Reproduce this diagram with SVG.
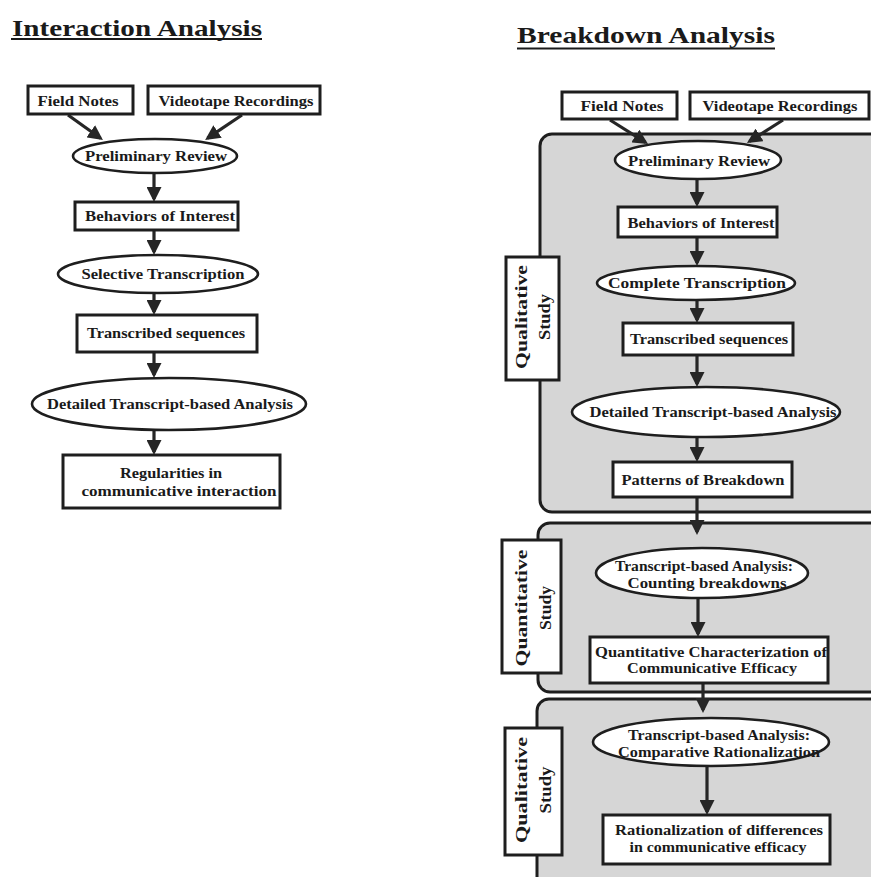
<svg xmlns="http://www.w3.org/2000/svg" width="871" height="877" viewBox="0 0 871 877">
  <style>
    .bg { fill: #ffffff; }
    .box { fill: #ffffff; stroke: #1e1e1e; stroke-width: 3; }
    .oval { fill: #ffffff; stroke: #1e1e1e; stroke-width: 2.6; }
    .section { fill: #d6d6d6; stroke: #1e1e1e; stroke-width: 3; }
    .tag { fill: #ffffff; stroke: #1e1e1e; stroke-width: 3; }
    .t { font-family: "Liberation Serif", "Times New Roman", serif; font-size: 15.5px; font-weight: bold; fill: #1a1a1a; text-anchor: middle; }
    .title { font-family: "Liberation Serif", "Times New Roman", serif; font-size: 23px; font-weight: bold; fill: #1a1a1a; }
    .uline { stroke: #1a1a1a; stroke-width: 2; }
    .lbl { font-family: "Liberation Serif", "Times New Roman", serif; font-size: 17.5px; font-weight: bold; fill: #1a1a1a; text-anchor: middle; }
    .edge { fill: none; stroke: #262626; stroke-width: 3.2; marker-end: url(#head); }
  </style>
  <defs>
    <marker id="head" markerUnits="userSpaceOnUse" viewBox="0 0 15 15" markerWidth="15" markerHeight="15" refX="12" refY="7.5" orient="auto">
      <path d="M0,0 L15,7.5 L0,15 z" fill="#262626"/>
    </marker>
  </defs>
  <rect class="bg" x="0" y="0" width="871" height="877"/>

  <!-- headings -->
  <g id="title-interaction">
    <text class="title" x="12" y="36" textLength="250" lengthAdjust="spacingAndGlyphs">Interaction Analysis</text>
    <line class="uline" x1="11" y1="39" x2="262" y2="39"/>
  </g>
  <g id="title-breakdown">
    <text class="title" x="517" y="43" textLength="258" lengthAdjust="spacingAndGlyphs">Breakdown Analysis</text>
    <line class="uline" x1="517" y1="48.5" x2="775" y2="48.5"/>
  </g>

  <!-- study phases (shaded bands) -->
  <g id="phase-qualitative-1"><rect class="section" x="540" y="134" width="370" height="378" rx="12"/></g>
  <g id="phase-quantitative"><rect class="section" x="538" y="523" width="370" height="169" rx="12"/></g>
  <g id="phase-qualitative-2"><rect class="section" x="537" y="699" width="370" height="210" rx="12"/></g>

  <!-- connectors -->
  <g id="connectors">
    <path class="edge" d="M68,115 L100.5,138.3"/>
    <path class="edge" d="M242,115 L207.6,138.2"/>
    <path class="edge" d="M154,173 L154,199"/>
    <path class="edge" d="M154,230 L154,252"/>
    <path class="edge" d="M154,293 L154,312"/>
    <path class="edge" d="M154,352 L154,375"/>
    <path class="edge" d="M154,430 L154,452"/>

    <path class="edge" d="M610,120 L645.5,142.4"/>
    <path class="edge" d="M783,120 L749.5,141.4"/>
    <path class="edge" d="M697,179 L697,204"/>
    <path class="edge" d="M697,237 L697,263"/>
    <path class="edge" d="M697,300 L697,320"/>
    <path class="edge" d="M697,355 L697,384"/>
    <path class="edge" d="M697,437 L697,459"/>
    <path class="edge" d="M697,497 L697,532"/>
    <path class="edge" d="M698,598 L698,634"/>
    <path class="edge" d="M703,683 L703,710"/>
    <path class="edge" d="M707,766 L707,812"/>
  </g>

  <!-- interaction analysis flow -->
  <g id="ia-field-notes">
    <rect class="box" x="28" y="86" width="105" height="28"/>
    <text class="t" x="78" y="106" textLength="81" lengthAdjust="spacingAndGlyphs">Field Notes</text>
  </g>
  <g id="ia-videotape">
    <rect class="box" x="148" y="86" width="172" height="28"/>
    <text class="t" x="236" y="106" textLength="155" lengthAdjust="spacingAndGlyphs">Videotape Recordings</text>
  </g>
  <g id="ia-preliminary-review">
    <ellipse class="oval" cx="155" cy="156" rx="82" ry="17"/>
    <text class="t" x="156" y="161" textLength="142" lengthAdjust="spacingAndGlyphs">Preliminary Review</text>
  </g>
  <g id="ia-behaviors">
    <rect class="box" x="75" y="202" width="163" height="28"/>
    <text class="t" x="160" y="221" textLength="150" lengthAdjust="spacingAndGlyphs">Behaviors of Interest</text>
  </g>
  <g id="ia-selective-transcription">
    <ellipse class="oval" cx="158" cy="274" rx="100" ry="19"/>
    <text class="t" x="163" y="279" textLength="163" lengthAdjust="spacingAndGlyphs">Selective Transcription</text>
  </g>
  <g id="ia-transcribed">
    <rect class="box" x="77" y="315" width="180" height="37"/>
    <text class="t" x="166" y="338" textLength="158" lengthAdjust="spacingAndGlyphs">Transcribed sequences</text>
  </g>
  <g id="ia-detailed-analysis">
    <ellipse class="oval" cx="169" cy="404" rx="137" ry="26"/>
    <text class="t" x="170" y="409" textLength="246" lengthAdjust="spacingAndGlyphs">Detailed Transcript-based Analysis</text>
  </g>
  <g id="ia-regularities">
    <rect class="box" x="63" y="455" width="217" height="53"/>
    <text class="t" x="171" y="478" textLength="102" lengthAdjust="spacingAndGlyphs">Regularities in</text>
    <text class="t" x="179" y="496" textLength="195" lengthAdjust="spacingAndGlyphs">communicative interaction</text>
  </g>

  <!-- breakdown analysis flow -->
  <g id="ba-field-notes">
    <rect class="box" x="562" y="92" width="115" height="27"/>
    <text class="t" x="622" y="111" textLength="83" lengthAdjust="spacingAndGlyphs">Field Notes</text>
  </g>
  <g id="ba-videotape">
    <rect class="box" x="690" y="92" width="179" height="27"/>
    <text class="t" x="780" y="111" textLength="155" lengthAdjust="spacingAndGlyphs">Videotape Recordings</text>
  </g>
  <g id="ba-preliminary-review">
    <ellipse class="oval" cx="698" cy="160" rx="83" ry="19"/>
    <text class="t" x="699" y="166" textLength="142" lengthAdjust="spacingAndGlyphs">Preliminary Review</text>
  </g>
  <g id="ba-behaviors">
    <rect class="box" x="618" y="207" width="159" height="30"/>
    <text class="t" x="701" y="228" textLength="147" lengthAdjust="spacingAndGlyphs">Behaviors of Interest</text>
  </g>
  <g id="ba-complete-transcription">
    <ellipse class="oval" cx="696" cy="283" rx="99" ry="17"/>
    <text class="t" x="697" y="288" textLength="178" lengthAdjust="spacingAndGlyphs">Complete Transcription</text>
  </g>
  <g id="ba-transcribed">
    <rect class="box" x="623" y="323" width="170" height="32"/>
    <text class="t" x="709" y="344" textLength="158" lengthAdjust="spacingAndGlyphs">Transcribed sequences</text>
  </g>
  <g id="ba-detailed-analysis">
    <ellipse class="oval" cx="706" cy="412" rx="134" ry="25"/>
    <text class="t" x="713" y="417" textLength="247" lengthAdjust="spacingAndGlyphs">Detailed Transcript-based Analysis</text>
  </g>
  <g id="ba-patterns">
    <rect class="box" x="613" y="462" width="179" height="35"/>
    <text class="t" x="703" y="485" textLength="163" lengthAdjust="spacingAndGlyphs">Patterns of Breakdown</text>
  </g>
  <g id="ba-counting">
    <ellipse class="oval" cx="702" cy="573" rx="106" ry="25"/>
    <text class="t" x="704" y="571" textLength="178" lengthAdjust="spacingAndGlyphs">Transcript-based Analysis:</text>
    <text class="t" x="707" y="588" textLength="159" lengthAdjust="spacingAndGlyphs">Counting breakdowns</text>
  </g>
  <g id="ba-efficacy">
    <rect class="box" x="590" y="637" width="238" height="46"/>
    <text class="t" x="711" y="657" textLength="232" lengthAdjust="spacingAndGlyphs">Quantitative Characterization of</text>
    <text class="t" x="712" y="673" textLength="170" lengthAdjust="spacingAndGlyphs">Communicative Efficacy</text>
  </g>
  <g id="ba-comparative">
    <ellipse class="oval" cx="711" cy="742" rx="118" ry="24"/>
    <text class="t" x="719" y="740" textLength="182" lengthAdjust="spacingAndGlyphs">Transcript-based Analysis:</text>
    <text class="t" x="719" y="757" textLength="202" lengthAdjust="spacingAndGlyphs">Comparative Rationalization</text>
  </g>
  <g id="ba-rationalization">
    <rect class="box" x="603" y="815" width="227" height="49"/>
    <text class="t" x="719" y="835" textLength="208" lengthAdjust="spacingAndGlyphs">Rationalization of differences</text>
    <text class="t" x="718" y="852" textLength="177" lengthAdjust="spacingAndGlyphs">in communicative efficacy</text>
  </g>

  <!-- phase labels -->
  <g id="tag-qualitative-1">
    <rect class="tag" x="506" y="257" width="53" height="123"/>
    <text class="lbl" transform="translate(527,317) rotate(-90)" textLength="104" lengthAdjust="spacingAndGlyphs">Qualitative</text>
    <text class="lbl" transform="translate(550,317) rotate(-90)" textLength="46" lengthAdjust="spacingAndGlyphs">Study</text>
  </g>
  <g id="tag-quantitative">
    <rect class="tag" x="502" y="540" width="59" height="133"/>
    <text class="lbl" transform="translate(527,608) rotate(-90)" textLength="117" lengthAdjust="spacingAndGlyphs">Quantitative</text>
    <text class="lbl" transform="translate(551,608) rotate(-90)" textLength="44" lengthAdjust="spacingAndGlyphs">Study</text>
  </g>
  <g id="tag-qualitative-2">
    <rect class="tag" x="505" y="728" width="57" height="127"/>
    <text class="lbl" transform="translate(527,790) rotate(-90)" textLength="106" lengthAdjust="spacingAndGlyphs">Qualitative</text>
    <text class="lbl" transform="translate(551,790) rotate(-90)" textLength="47" lengthAdjust="spacingAndGlyphs">Study</text>
  </g>
</svg>
